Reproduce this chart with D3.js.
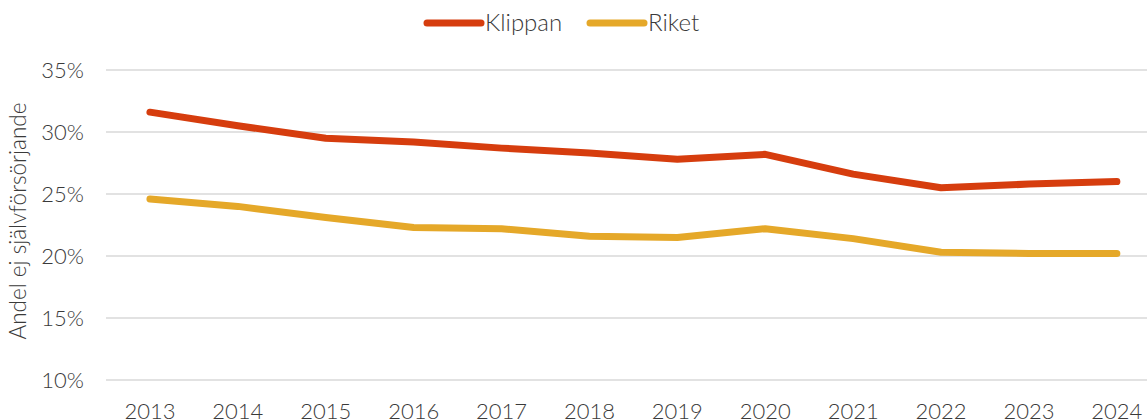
<!DOCTYPE html>
<html>
<head>
<meta charset="utf-8">
<script src="https://cdn.jsdelivr.net/npm/d3@7"></script>
<style>
  html, body { margin: 0; padding: 0; background: #fff; }
  svg { display: block; }
  svg text { font-family: Lato, "Open Sans", sans-serif; font-weight: 300; fill: #3a3a3a; }
</style>
</head>
<body>
<svg id="chart" width="1147" height="420"></svg>
<script>
// Andel ej självförsörjande, Klippan jämfört med riket
const years = ["2013","2014","2015","2016","2017","2018","2019","2020","2021","2022","2023","2024"];
const klippan = [31.6, 30.5, 29.5, 29.2, 28.7, 28.3, 27.8, 28.2, 26.6, 25.5, 25.8, 26.0];
const riket   = [24.6, 24.0, 23.1, 22.3, 22.2, 21.6, 21.5, 22.2, 21.4, 20.3, 20.2, 20.2];
const yTicks  = [10, 15, 20, 25, 30, 35];
const seriesNames = ["Klippan", "Riket"];
const seriesColors = ["#D63D0E", "#E5A829"];

const svg = d3.select("#chart");
const margin = { left: 106, top: 70, bottom: 380 };
const bandW = 87.9;

const x = d3.scaleBand().domain(years).range([margin.left, margin.left + bandW * years.length]);
const y = d3.scaleLinear().domain([10, 35]).range([margin.bottom, margin.top]);

// Horizontal gridlines
svg.append("g").selectAll("line").data(yTicks).join("line")
  .attr("x1", margin.left).attr("x2", 1147)
  .attr("y1", d => y(d)).attr("y2", d => y(d))
  .attr("stroke", "#d9d9d9").attr("stroke-width", 1.5);

// Y axis labels
const yAxis = d3.axisLeft(y).tickValues(yTicks).tickFormat(d => d + "%").tickSize(0).tickPadding(0);
const gy = svg.append("g").attr("transform", `translate(${margin.left - 22},0)`).call(yAxis)
  .attr("font-family", null).attr("font-size", null);
gy.select(".domain").remove();
gy.selectAll("text").attr("font-size", 22).attr("fill", null).attr("dy", "0.35em");

// X axis labels
const xAxis = d3.axisBottom(x).tickSize(0).tickPadding(0);
const gx = svg.append("g").attr("transform", `translate(0,${margin.bottom + 20})`).call(xAxis)
  .attr("font-family", null).attr("font-size", null);
gx.select(".domain").remove();
gx.selectAll("text").attr("font-size", 22).attr("fill", null).attr("dy", "0.85em");

// Y axis title
svg.append("text")
  .attr("transform", "translate(26,221) rotate(-90)")
  .attr("text-anchor", "middle")
  .attr("font-size", 22.5)
  .text("Andel ej självförsörjande");

// Lines
const line = d3.line().x((d, i) => x(years[i]) + x.bandwidth() / 2).y(d => y(d));
[klippan, riket].forEach((vals, k) => {
  svg.append("path").datum(vals)
    .attr("d", line)
    .attr("fill", "none")
    .attr("stroke", seriesColors[k])
    .attr("stroke-width", 7)
    .attr("stroke-linecap", "round")
    .attr("stroke-linejoin", "round");
});

// Legend
const legendX = [427, 590];
seriesNames.forEach((name, k) => {
  const g = svg.append("g").attr("transform", `translate(${legendX[k]},23)`);
  g.append("line").attr("x1", 0).attr("x2", 54).attr("y1", 0).attr("y2", 0)
    .attr("stroke", seriesColors[k]).attr("stroke-width", 7).attr("stroke-linecap", "round");
  g.append("text").attr("x", 58).attr("dy", "0.35em")
    .attr("font-size", 24).text(name);
});
</script>
</body>
</html>
